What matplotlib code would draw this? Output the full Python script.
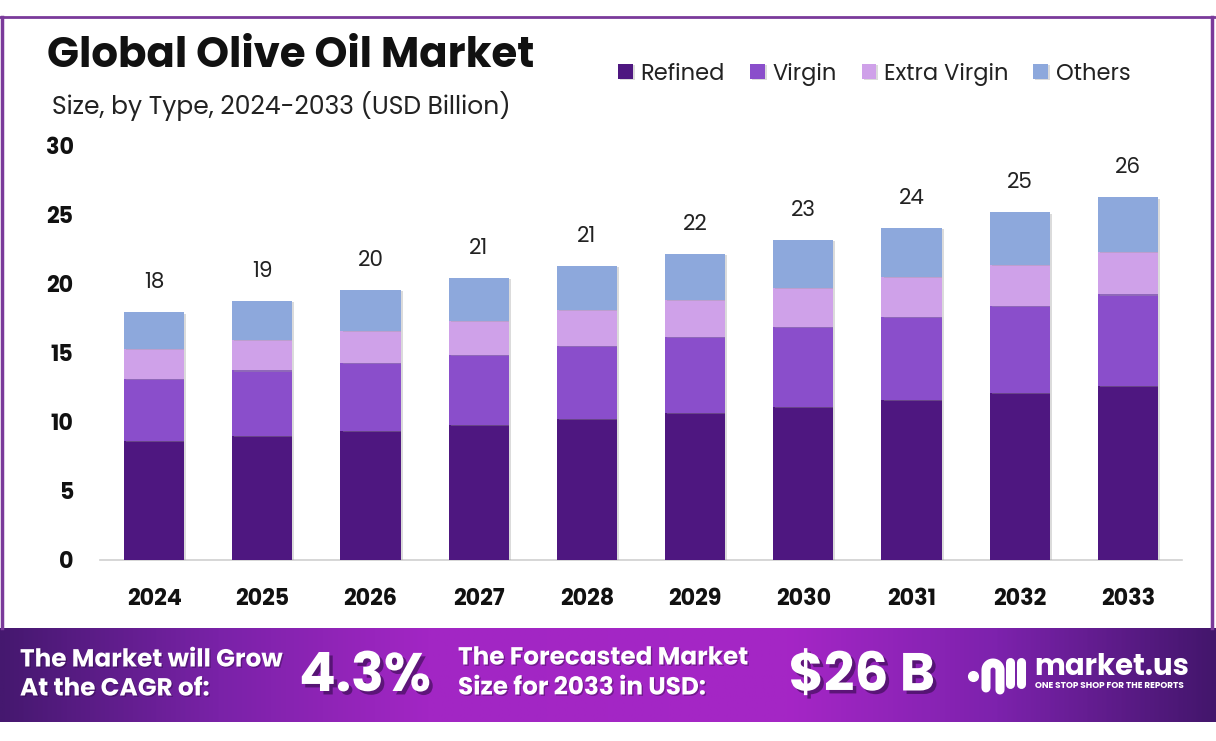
import numpy as np
import matplotlib
matplotlib.use("Agg")
import matplotlib.pyplot as plt
import matplotlib.patheffects as pe
from matplotlib.colors import LinearSegmentedColormap
from matplotlib.lines import Line2D

years = ["2024", "2025", "2026", "2027", "2028", "2029", "2030", "2031", "2032", "2033"]
refined = [8.6, 9.0, 9.33, 9.76, 10.2, 10.63, 11.06, 11.57, 12.1, 12.6]
virgin = [4.48, 4.7, 4.92, 5.06, 5.28, 5.5, 5.78, 6.02, 6.27, 6.61]
extra_virgin = [2.17, 2.22, 2.31, 2.46, 2.6, 2.68, 2.82, 2.89, 2.96, 3.08]
others = [2.65, 2.82, 2.96, 3.11, 3.18, 3.33, 3.47, 3.54, 3.81, 3.93]
total_labels = ["18", "19", "20", "21", "21", "22", "23", "24", "25", "26"]
series_names = ["Refined", "Virgin", "Extra Virgin", "Others"]
colors = ["#4e1780", "#8a4ecb", "#cfa1e9", "#8da8dc"]

W, H = 1216, 741
fig = plt.figure(figsize=(W / 100, H / 100), dpi=100)
fig.patch.set_facecolor("white")

def fx(x):
    return x / W

def fy(y):
    return 1 - y / H

FONT = ["Poppins", "Inter", "DejaVu Sans"]

# frame
frame_color = "#7a3a9a"
fig.add_artist(Line2D([0, 1], [fy(17), fy(17)], color=frame_color, lw=2.0, transform=fig.transFigure))
fig.add_artist(Line2D([fx(2), fx(2)], [fy(17), fy(628)], color=frame_color, lw=2.5, transform=fig.transFigure))
fig.add_artist(Line2D([fx(1212), fx(1212)], [fy(17), fy(628)], color=frame_color, lw=2.5, transform=fig.transFigure))

# main axes
ax = fig.add_axes([fx(100), fy(560), fx(1182) - fx(100), fy(145) - fy(560)])
x = np.arange(len(years))
series = [refined, virgin, extra_virgin, others]
bottom = np.zeros(len(years))
shadow = [pe.SimplePatchShadow(offset=(1.5, -1), shadow_rgbFace="#999999", alpha=0.35), pe.Normal()]
for vals, name, c in zip(series, series_names, colors):
    bars = ax.bar(x, vals, width=0.555, bottom=bottom, color=c, label=name, zorder=3)
    for b in bars:
        b.set_path_effects(shadow)
    bottom = bottom + np.array(vals)

for xi, tot, lab in zip(x, bottom, total_labels):
    ax.annotate(lab, (xi, tot), xytext=(0, 21), textcoords="offset points",
                ha="center", va="center", fontsize=15.5, color="#222222", family=FONT)

ax.set_xlim(-0.5, len(years) - 0.5)
ax.set_ylim(0, 30)
ax.set_yticks([0, 5, 10, 15, 20, 25, 30])
ax.set_xticks(x)
ax.set_xticklabels(years)
for s in ["top", "right", "left"]:
    ax.spines[s].set_visible(False)
ax.spines["bottom"].set_color("#d0d0d0")
ax.spines["bottom"].set_linewidth(1.2)
ax.tick_params(axis="both", length=0)
ax.tick_params(axis="y", pad=19)
ax.tick_params(axis="x", pad=20)
for lab in ax.get_yticklabels():
    lab.set_fontweight("bold")
    lab.set_fontsize(16)
    lab.set_family(FONT)
    lab.set_color("#111111")
for lab in ax.get_xticklabels():
    lab.set_fontweight("bold")
    lab.set_fontsize(16)
    lab.set_family(FONT)
    lab.set_color("#111111")
ax.set_facecolor("white")

# title and subtitle
fig.text(fx(47), fy(57), "Global Olive Oil Market", fontsize=30.2, fontweight="bold",
         family=FONT, va="center", ha="left", color="#111111")
fig.text(fx(52), fy(106), "Size, by Type, 2024-2033 (USD Billion)", fontsize=18,
         family=FONT, va="center", ha="left", color="#222222")

# legend
handles, labels = ax.get_legend_handles_labels()
leg = fig.legend(handles, labels, loc="center left", bbox_to_anchor=(fx(598), fy(74)),
                 ncol=4, frameon=False, handlelength=0.65, handleheight=0.65,
                 handletextpad=0.35, columnspacing=1.1, prop={"family": FONT, "size": 16.2})
for t in leg.get_texts():
    t.set_color("#222222")

# banner
bax = fig.add_axes([0, fy(722), 1, fy(628) - fy(722)])
cmap = LinearSegmentedColormap.from_list("ban", [
    (0.0, "#45186f"), (0.18, "#7a22a8"), (0.35, "#a226c4"), (0.65, "#a526c6"),
    (0.82, "#7d22ad"), (1.0, "#43166c")])
grad = np.linspace(0, 1, 512).reshape(1, -1)
bax.imshow(grad, aspect="auto", cmap=cmap, extent=[0, 1, 0, 1])
bax.set_xlim(0, 1)
bax.set_ylim(0, 1)
bax.axis("off")

big_shadow = [pe.SimplePatchShadow(offset=(2.5, -2.5), shadow_rgbFace="#2a0840", alpha=0.55), pe.Normal()]
small_shadow = [pe.SimplePatchShadow(offset=(1, -1), shadow_rgbFace="#2a0840", alpha=0.4), pe.Normal()]

fig.text(fx(20), fy(661), "The Market will Grow", fontsize=17.8, fontweight="bold", family=FONT,
         color="white", va="center", ha="left", path_effects=small_shadow)
fig.text(fx(20), fy(690), "At the CAGR of:", fontsize=17.8, fontweight="bold", family=FONT,
         color="white", va="center", ha="left", path_effects=small_shadow)
fig.text(fx(365), fy(678), "4.3%", fontsize=39, fontweight="bold", family=FONT,
         color="white", va="center", ha="center", path_effects=big_shadow)
fig.text(fx(458), fy(659), "The Forecasted Market", fontsize=17.8, fontweight="bold", family=FONT,
         color="white", va="center", ha="left", path_effects=small_shadow)
fig.text(fx(458), fy(689), "Size for 2033 in USD:", fontsize=17.8, fontweight="bold", family=FONT,
         color="white", va="center", ha="left", path_effects=small_shadow)
fig.text(fx(862), fy(678), "$26 B", fontsize=38.5, fontweight="bold", family=FONT,
         color="white", va="center", ha="center", path_effects=big_shadow)

# logo
fig.text(fx(1034), fy(668), "market.us", fontsize=21, fontweight="bold", family=FONT,
         color="white", va="center", ha="left")
fig.text(fx(1035), fy(686), "ONE STOP SHOP FOR THE REPORTS", fontsize=6.4, fontweight="bold",
         family=FONT, color="white", va="center", ha="left")
lw = 6.5
fig.add_artist(Line2D([fx(973)], [fy(676)], marker="o", markersize=7, color="white",
                      transform=fig.transFigure, lw=0))
t = np.linspace(np.pi, 0, 30)
cx, cy, r = 993, 670, 7
xs = [cx - r, cx - r] + list(cx + r * np.cos(t)) + [cx + r, cx + r]
ys = [688, 670] + list(cy - r * np.sin(t)) + [670, 690]
fig.add_artist(Line2D([fx(v) for v in xs], [fy(v) for v in ys], color="white", lw=lw,
                      solid_capstyle="round", transform=fig.transFigure))
fig.add_artist(Line2D([fx(1010), fx(1010)], [fy(662), fy(684)], color="white", lw=lw,
                      solid_capstyle="round", transform=fig.transFigure))
fig.add_artist(Line2D([fx(1021), fx(1021)], [fy(662), fy(684)], color="white", lw=lw,
                      solid_capstyle="round", transform=fig.transFigure))

fig.savefig("out.png", dpi=100, facecolor="white")
